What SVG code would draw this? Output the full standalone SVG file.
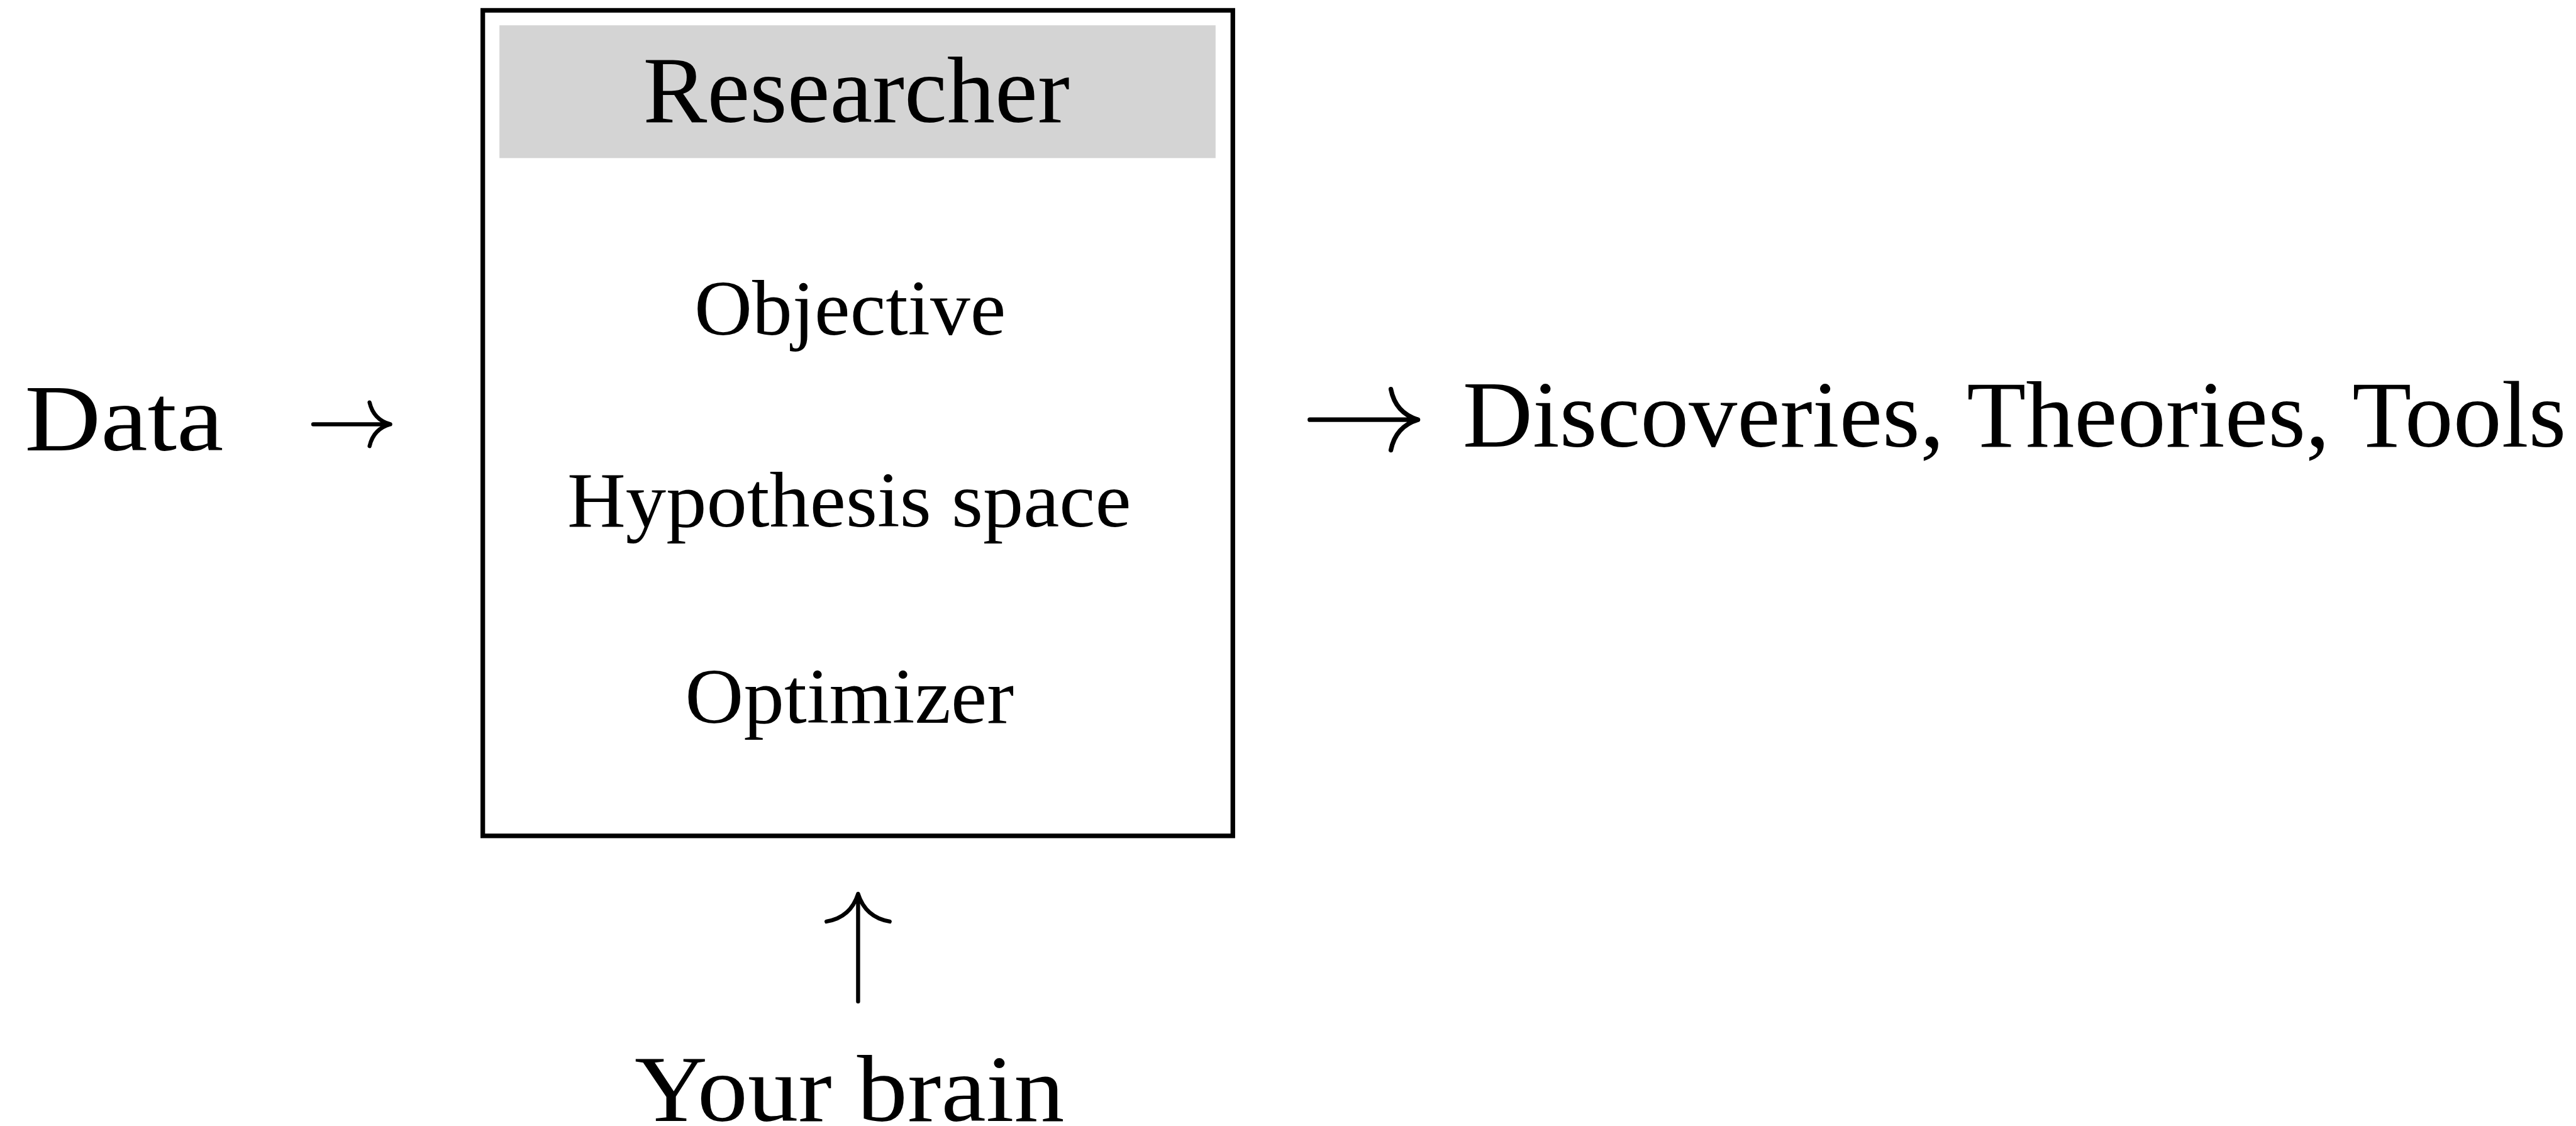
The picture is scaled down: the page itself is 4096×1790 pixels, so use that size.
<svg xmlns="http://www.w3.org/2000/svg" width="4096" height="1790" viewBox="0 0 4096 1790">
  <style>
    .t { font-family: "Liberation Serif", "DejaVu Serif", serif; fill: #000; }
    .big { font-size: 165px; }
    .mid { font-size: 136px; }
    .arr { fill: none; stroke: #000; stroke-width: 7; stroke-linecap: round; stroke-linejoin: round; }
  </style>
  <rect width="4096" height="1790" fill="#fff"/>
  <g transform="scale(0.91388)">
    <g id="researcher">
      <rect x="840" y="18" width="1305" height="1436" fill="#fff" stroke="#000" stroke-width="8"/>
      <rect x="869" y="44" width="1246" height="231" fill="#d4d4d4"/>
      <text class="t big" x="1119" y="212" textLength="742" lengthAdjust="spacingAndGlyphs">Researcher</text>
      <text class="t mid" x="1208" y="582" textLength="542" lengthAdjust="spacingAndGlyphs">Objective</text>
      <text class="t mid" x="987" y="916" textLength="981" lengthAdjust="spacingAndGlyphs">Hypothesis space</text>
      <text class="t mid" x="1192" y="1257" textLength="572" lengthAdjust="spacingAndGlyphs">Optimizer</text>
    </g>
    <g id="data">
      <text class="t big" x="43" y="784" textLength="346" lengthAdjust="spacingAndGlyphs">Data</text>
    </g>
    <g id="outputs">
      <text class="t big" x="2545" y="777" textLength="1920" lengthAdjust="spacingAndGlyphs">Discoveries, Theories, Tools</text>
    </g>
    <g id="brain">
      <text class="t big" x="1104" y="1950" textLength="748" lengthAdjust="spacingAndGlyphs">Your brain</text>
    </g>
    <g id="connectors">
      <path class="arr" d="M545 738 H679 M643 700 Q650 730 679 738 M643 776 Q650 746 679 738"/>
      <path class="arr" style="stroke-width:8" d="M2279 730 H2467 M2420 677 Q2428 718 2467 730 M2420 783 Q2428 742 2467 730"/>
      <path class="arr" d="M1493 1742 V1555 M1438 1603 Q1480 1596 1493 1555 M1548 1603 Q1506 1596 1493 1555"/>
    </g>
  </g>
</svg>
